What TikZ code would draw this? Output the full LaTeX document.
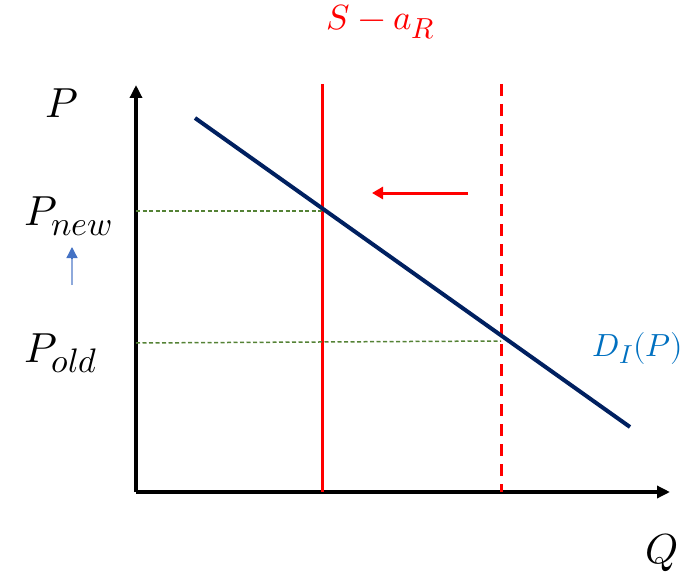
\documentclass[tikz,border=0pt]{standalone}
\usepackage{unicode-math}
\setmathfont{Latin Modern Math}
\DeclareMathSizes{42}{42}{34}{26}
\DeclareMathSizes{35}{35}{29}{22}
\DeclareMathSizes{32}{32}{26}{20}
\usetikzlibrary{arrows.meta}
\definecolor{navy}{HTML}{002060}
\definecolor{dgreen}{HTML}{548235}
\definecolor{lblue}{HTML}{8EA9DB}
\definecolor{mblue}{HTML}{4472C4}
\definecolor{dblue}{HTML}{0070C0}
\begin{document}
\begin{tikzpicture}[x=1pt,y=-1pt,
  axis/.style={line width=4.2pt,-{Triangle[length=13pt,width=12pt]}},
  supply/.style={red,line width=3pt},
  guide/.style={dgreen,line width=1.5pt,dash pattern=on 4pt off 2.5pt},
  lbl/.style={inner sep=0pt,font=\fontsize{42}{50}\selectfont}]
\useasboundingbox (0,0) rectangle (698,580);
\coordinate (O) at (136,492);
\coordinate (ytop) at (136,85);
\coordinate (xend) at (670,492);
\draw[axis] (O) -- (ytop);
\draw[axis] (O) -- (xend);
% supply lines
\coordinate (s1t) at (322,84);
\coordinate (s1b) at (322,492);
\coordinate (s2t) at (501,84);
\coordinate (s2b) at (501,492);
\draw[supply] (s1t) -- (s1b);
\draw[supply,dash pattern=on 12pt off 8pt] (s2t) -- (s2b);
% guides
\coordinate (g1a) at (136,211);
\coordinate (g1b) at (322,211);
\coordinate (g2a) at (136,343);
\coordinate (g2b) at (501,341);
\draw[guide] (g1a) -- (g1b);
\draw[guide] (g2a) -- (g2b);
% demand
\coordinate (d1) at (195,118);
\coordinate (d2) at (630,427);
\draw[navy,line width=4pt] (d1) -- (d2);
% red shift arrow
\coordinate (ra) at (468,193);
\coordinate (rb) at (372,193);
\draw[red,line width=3pt,-{Triangle[length=11pt,width=12pt]}] (ra) -- (rb);
% blue arrow
\coordinate (ba) at (72,285);
\coordinate (bb) at (72,247);
\draw[lblue,line width=1.3pt] (ba) -- (72,258);
\draw[mblue,line width=1.3pt,-{Triangle[length=11pt,width=11pt]}] (72,259) -- (bb);
% labels
\node[lbl] (lP) at (62,103) {$P$};
\node[lbl,anchor=base west] (lPn) at (24,225) {$P_{new}$};
\node[lbl,anchor=base west] (lPo) at (24,362) {$P_{old}$};
\node[lbl,red,font=\fontsize{35}{42}\selectfont] (lS) at (381,22) {$S-a_R$};
\node[lbl,dblue,font=\fontsize{32}{38}\selectfont] (lD) at (638,348) {$D_I(P)$};
\node[lbl] (lQ) at (662,553) {$Q$};
\end{tikzpicture}
\end{document}
